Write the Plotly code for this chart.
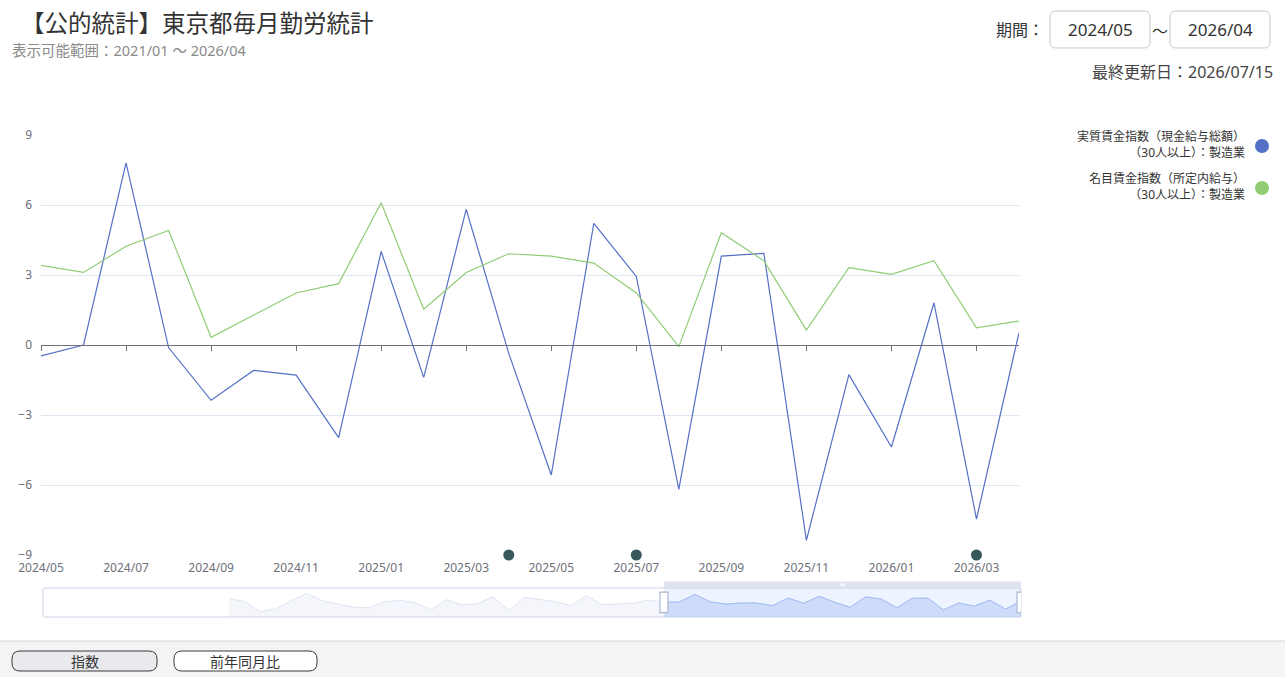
import plotly.graph_objects as go
import pandas as pd

W, H = 1285, 677
FONT = "Noto Sans, Noto Sans CJK JP, sans-serif"

# ---------------- data ----------------
months_main = ["2024/05", "2024/06", "2024/07", "2024/08", "2024/09", "2024/10",
               "2024/11", "2024/12", "2025/01", "2025/02", "2025/03", "2025/04",
               "2025/05", "2025/06", "2025/07", "2025/08", "2025/09", "2025/10",
               "2025/11", "2025/12", "2026/01", "2026/02", "2026/03", "2026/04"]

# 実質賃金指数（現金給与総額）（30人以上）：製造業  2024/05-2026/04
real_wage = [-0.47, 0.0, 7.81, -0.11, -2.37, -1.09, -1.29, -3.97, 4.01, -1.39,
             5.81, -0.36, -5.57, 5.21, 2.94, -6.19, 3.81, 3.93, -8.37, -1.27,
             -4.37, 1.81, -7.46, 0.53]
# 名目賃金指数（所定内給与）（30人以上）：製造業  2024/05-2026/04
nominal_wage = [3.41, 3.11, 4.23, 4.91, 0.33, 1.27, 2.23, 2.63, 6.10, 1.53,
                3.11, 3.91, 3.81, 3.51, 2.23, -0.07, 4.81, 3.61, 0.64, 3.31,
                3.03, 3.61, 0.74, 1.03]

# earlier values of the first series (2022/01-2024/04), visible only in the zoom slider
real_wage_earlier = [3.7, 0.2, -10.1, -7.4, 1.2, 8.8, 1.2, -2.2, -5.6, -6.3,
                     0.2, 1.6, -0.9, -8.4, 2.3, -3.2, -1.9, 5.3, -9.1, 4.7,
                     2.6, 0.2, -3.9, 6.4, -2.9, -2.5, -1.5, 1.9]
earlier_start = "2022-01"

# months marked with a dot on the bottom axis
event_months = ["2025/04", "2025/07", "2026/03"]

# available range (slider full extent)
full_months = [p.strftime("%Y/%m") for p in pd.period_range("2021-01", "2026-04", freq="M")]
slider_months = [p.strftime("%Y/%m") for p in pd.period_range(earlier_start, "2026-04", freq="M")]
slider_values = real_wage_earlier + real_wage

y_min, y_max, y_step = -9, 9, 3
tick_months = months_main[::2]

series_names = ["実質賃金指数（現金給与総額）<br>（30人以上）：製造業",
                "名目賃金指数（所定内給与）<br>（30人以上）：製造業"]
series_colors = ["#5470c6", "#91cc75"]

# ---------------- layout helpers ----------------
def px(x):
    return x / W

def py(y):
    return 1 - y / H

def rrect(x0, y0, x1, y1, r):
    pts = [("M", (x0 + r, y0)), ("L", (x1 - r, y0)), ("Q", (x1, y0), (x1, y0 + r)),
           ("L", (x1, y1 - r)), ("Q", (x1, y1), (x1 - r, y1)), ("L", (x0 + r, y1)),
           ("Q", (x0, y1), (x0, y1 - r)), ("L", (x0, y0 + r)), ("Q", (x0, y0), (x0 + r, y0))]
    s = ""
    for cmd, *ps in pts:
        s += cmd + " " + " ".join(f"{px(a):.5f},{py(b):.5f}" for a, b in ps) + " "
    return s + "Z"

PLOT_L, PLOT_R, PLOT_T, PLOT_B = 41, 1019, 135, 555
SL_L, SL_R, SL_T, SL_B = 43, 1021, 588, 617

ydom = [py(PLOT_B), py(PLOT_T)]
AX = "#6E7079"

fig = go.Figure()

# main series
fig.add_trace(go.Scatter(x=months_main, y=real_wage, mode="lines",
                         line=dict(color=series_colors[0], width=1.2),
                         xaxis="x", yaxis="y", hoverinfo="skip"))
fig.add_trace(go.Scatter(x=months_main, y=nominal_wage, mode="lines",
                         line=dict(color=series_colors[1], width=1.2),
                         xaxis="x", yaxis="y", hoverinfo="skip"))
# event dots on the bottom line
fig.add_trace(go.Scatter(x=event_months, y=[y_min] * len(event_months), mode="markers",
                         marker=dict(color="#36575c", size=11),
                         xaxis="x2", yaxis="y", cliponaxis=False, hoverinfo="skip"))

# slider mini chart (full series)
s_lo = min(slider_values)
s_hi = max(slider_values)
pad = (s_hi - s_lo) * 0.3
s_range = [s_lo - pad, s_hi + pad]
fig.add_trace(go.Scatter(x=slider_months, y=[s_range[0]] * len(slider_months), mode="lines",
                         line=dict(width=0), xaxis="x3", yaxis="y3", hoverinfo="skip"))
fig.add_trace(go.Scatter(x=slider_months, y=slider_values, mode="lines", fill="tonexty",
                         fillcolor="rgba(210,219,238,0.25)",
                         line=dict(color="#dfe5f2", width=1), xaxis="x3", yaxis="y3",
                         hoverinfo="skip"))
fig.add_trace(go.Scatter(x=months_main, y=[s_range[0]] * len(months_main), mode="lines",
                         line=dict(width=0), xaxis="x3", yaxis="y3", hoverinfo="skip"))
fig.add_trace(go.Scatter(x=months_main, y=real_wage, mode="lines", fill="tonexty",
                         fillcolor="rgba(143,176,247,0.25)",
                         line=dict(color="#a9c0f4", width=1), xaxis="x3", yaxis="y3",
                         hoverinfo="skip"))

fig.update_layout(
    width=W, height=H, autosize=False,
    margin=dict(l=0, r=0, t=0, b=0, pad=0),
    paper_bgcolor="white", plot_bgcolor="rgba(0,0,0,0)",
    showlegend=False, hovermode=False,
    font=dict(family=FONT, color="#333"),
    xaxis=dict(domain=[px(PLOT_L), px(PLOT_R)], type="category",
               categoryorder="array", categoryarray=months_main,
               range=[0, len(months_main) - 1], showgrid=False, zeroline=False,
               showline=False, ticks="", tickmode="array", tickvals=tick_months,
               ticktext=tick_months, tickfont=dict(size=12, color=AX, family=FONT),
               ticklabelstandoff=4, anchor="y", automargin=False),
    xaxis2=dict(overlaying="x", type="category", categoryorder="array",
                categoryarray=months_main, range=[0, len(months_main) - 1],
                anchor="free", position=(ydom[0] + ydom[1]) / 2,
                showgrid=False, zeroline=False, showline=True, linecolor=AX, linewidth=1,
                ticks="outside", ticklen=5, tickcolor=AX, tickwidth=1,
                tickmode="array", tickvals=tick_months, showticklabels=False,
                automargin=False),
    yaxis=dict(domain=ydom, range=[y_min, y_max], dtick=y_step, tick0=0,
               showgrid=True, gridcolor="#E0E6F1", gridwidth=1, zeroline=False,
               showline=False, ticks="", tickfont=dict(size=12, color=AX, family=FONT),
               ticklabelstandoff=8, anchor="x", automargin=False),
    xaxis3=dict(domain=[px(SL_L), px(SL_R)], type="category", categoryorder="array",
                categoryarray=full_months, range=[0, len(full_months) - 1],
                visible=False, anchor="y3", automargin=False),
    yaxis3=dict(domain=[py(SL_B), py(SL_T)], range=s_range, visible=False, anchor="x3",
                automargin=False),
)

shapes = []
annotations = []

# slider frame
shapes.append(dict(type="path", path=rrect(SL_L, SL_T, SL_R, SL_B, 3), xref="paper", yref="paper",
                   line=dict(color="#dde3f0", width=1.5), fillcolor="rgba(0,0,0,0)", layer="below"))
w0 = full_months.index(months_main[0])
w1 = full_months.index(months_main[-1])
# filler for selected window
shapes.append(dict(type="rect", xref="x3", yref="y3 domain", x0=w0, x1=w1, y0=0, y1=1,
                   fillcolor="rgba(135,175,255,0.15)", line=dict(width=0), layer="above"))
# move bar above the window
shapes.append(dict(type="rect", xref="x3", yref="y3 domain", x0=w0, x1=w1, y0=1.0, y1=1.22,
                   fillcolor="#dfe4f0", line=dict(width=0)))
for k in (-1.5, 0, 1.5):
    shapes.append(dict(type="line", xref="x3", yref="y3 domain", xsizemode="pixel",
                       xanchor=(w0 + w1) / 2, x0=k, x1=k, y0=1.06, y1=1.16,
                       line=dict(color="white", width=1)))
# handles
for wx in (w0, w1):
    shapes.append(dict(type="rect", xref="x3", yref="y3 domain", xsizemode="pixel",
                       xanchor=wx, x0=-4, x1=4, y0=0.15, y1=0.86,
                       fillcolor="white", line=dict(color="#ACB8D1", width=1.2)))

# bottom band
shapes.append(dict(type="rect", xref="paper", yref="paper", x0=0, x1=1, y0=0, y1=py(641),
                   fillcolor="#f4f4f4", line=dict(width=0), layer="below"))
shapes.append(dict(type="line", xref="paper", yref="paper", x0=0, x1=1, y0=py(641), y1=py(641),
                   line=dict(color="#d4d4d4", width=1)))
buttons = [("指数", 12, 157, "#e9eaee"), ("前年同月比", 174, 317, "white")]
for label, bx0, bx1, bg in buttons:
    shapes.append(dict(type="path", path=rrect(bx0, 651, bx1, 671, 8), xref="paper", yref="paper",
                       fillcolor=bg, line=dict(color="#3a3a3a", width=1)))
    annotations.append(dict(text=label, x=px((bx0 + bx1) / 2), y=py(661), xref="paper", yref="paper",
                            showarrow=False, xanchor="center", yanchor="middle",
                            font=dict(size=14, color="#333", family=FONT)))

# title & subtitle
annotations.append(dict(text="【公的統計】東京都毎月勤労統計", x=px(19), y=py(23), xref="paper", yref="paper",
                        showarrow=False, xanchor="left", yanchor="middle",
                        font=dict(size=23.5, color="#333", family=FONT)))
annotations.append(dict(text="表示可能範囲：2021/01 ～ 2026/04", x=px(10), y=py(50), xref="paper",
                        yref="paper", showarrow=False, xanchor="left", yanchor="middle",
                        font=dict(size=14.5, color="#8a8a8a", family=FONT)))

# period selector
annotations.append(dict(text="期間：", x=px(1046), y=py(30), xref="paper", yref="paper",
                        showarrow=False, xanchor="right", yanchor="middle",
                        font=dict(size=16, color="#333", family=FONT)))
for label, bx0, bx1 in ((months_main[0], 1050, 1150), (months_main[-1], 1170, 1270)):
    shapes.append(dict(type="path", path=rrect(bx0, 11, bx1, 48, 6), xref="paper", yref="paper",
                       fillcolor="white", line=dict(color="#c6c6c6", width=1)))
    annotations.append(dict(text=label, x=px((bx0 + bx1) / 2), y=py(30), xref="paper", yref="paper",
                            showarrow=False, xanchor="center", yanchor="middle",
                            font=dict(size=17, color="#333", family=FONT)))
annotations.append(dict(text="～", x=px(1160), y=py(31), xref="paper", yref="paper",
                        showarrow=False, xanchor="center", yanchor="middle",
                        font=dict(size=16, color="#333", family=FONT)))
annotations.append(dict(text="最終更新日：2026/07/15", x=px(1275), y=py(72), xref="paper", yref="paper",
                        showarrow=False, xanchor="right", yanchor="middle",
                        font=dict(size=16, color="#444", family=FONT)))

# custom legend (text left of marker, right aligned)
for i, (name, col) in enumerate(zip(series_names, series_colors)):
    yc = 144 + 42 * i
    annotations.append(dict(text=name, x=px(1247), y=py(yc), xref="paper", yref="paper",
                            showarrow=False, xanchor="right", yanchor="middle", align="right",
                            font=dict(size=12, color="#333", family=FONT)))
    shapes.append(dict(type="circle", xref="paper", yref="paper", xsizemode="pixel",
                       ysizemode="pixel", xanchor=px(1262), yanchor=py(yc + 2),
                       x0=-7, x1=7, y0=-7, y1=7, fillcolor=col, line=dict(width=0)))

fig.update_layout(shapes=shapes, annotations=annotations)

fig.write_html("out.html", include_plotlyjs=True, config={"displayModeBar": False},
               post_script="document.documentElement.style.margin='0';document.body.style.margin='0';"
                           "document.body.style.overflow='hidden';")
